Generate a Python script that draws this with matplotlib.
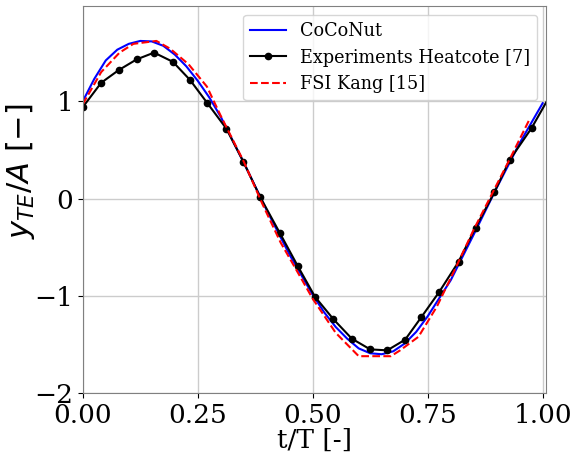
import matplotlib
matplotlib.use("Agg")
import matplotlib.pyplot as plt

# CoCoNut simulation (blue)
t_coconut = [0.0, 0.025, 0.05, 0.075, 0.10, 0.125, 0.15, 0.175, 0.20, 0.225, 0.25, 0.275,
             0.30, 0.35, 0.40, 0.45, 0.50, 0.525, 0.55, 0.575, 0.60, 0.625, 0.65, 0.675,
             0.70, 0.725, 0.75, 0.80, 0.85, 0.90, 0.95, 1.0]
y_coconut = [1.00, 1.23, 1.42, 1.53, 1.59, 1.62, 1.615, 1.57, 1.48, 1.36, 1.21, 1.04,
             0.84, 0.37, -0.12, -0.58, -0.99, -1.17, -1.32, -1.44, -1.54, -1.59, -1.60, -1.57,
             -1.49, -1.37, -1.21, -0.84, -0.37, 0.11, 0.57, 0.98]

# Experiments Heatcote [7] (black with dots)
t_exp = [0.0, 0.040, 0.078, 0.117, 0.155, 0.196, 0.233, 0.271, 0.312, 0.349, 0.386,
         0.428, 0.467, 0.505, 0.545, 0.585, 0.625, 0.662, 0.701, 0.736, 0.775, 0.817,
         0.854, 0.895, 0.928, 0.976, 1.015]
y_exp = [0.94, 1.19, 1.32, 1.43, 1.50, 1.405, 1.22, 0.98, 0.72, 0.38, 0.013,
         -0.35, -0.69, -1.01, -1.24, -1.44, -1.55, -1.56, -1.45, -1.22, -0.96, -0.65,
         -0.30, 0.065, 0.395, 0.725, 1.05]

# FSI Kang [15] (red dashed)
t_kang = [0.0, 0.04, 0.08, 0.11, 0.16, 0.19, 0.23, 0.27, 0.30, 0.35, 0.39, 0.43, 0.47,
          0.50, 0.55, 0.60, 0.67, 0.69, 0.73, 0.77, 0.81, 0.85, 0.89, 0.93, 0.972]
y_kang = [0.97, 1.30, 1.50, 1.59, 1.62, 1.54, 1.38, 1.15, 0.85, 0.38, -0.05, -0.45, -0.78,
          -1.03, -1.38, -1.62, -1.62, -1.56, -1.42, -1.11, -0.72, -0.32, 0.05, 0.42, 0.82]

plt.rcParams["font.family"] = "DejaVu Serif"
plt.rcParams["mathtext.fontset"] = "dejavusans"

fig = plt.figure(figsize=(5.71, 4.54), dpi=100)
ax = fig.add_axes([0.145, 0.134, 0.811, 0.853])

ax.plot(t_coconut, y_coconut, color="blue", lw=1.5, label="CoCoNut")
ax.plot(t_exp, y_exp, color="black", lw=1.5, marker="o", markersize=4.5,
        label="Experiments Heatcote [7]")
ax.plot(t_kang, y_kang, color="red", lw=1.5, ls="--", label="FSI Kang [15]")

ax.set_xlim(0, 1.007)
ax.set_ylim(-2, 1.98)
ax.set_xticks([0.0, 0.25, 0.5, 0.75, 1.0])
ax.set_yticks([-2, -1, 0, 1])
ax.tick_params(labelsize=19)
ax.grid(True, color="#cccccc", lw=1)
for s in ax.spines.values():
    s.set_color("#808080")

ax.set_xlabel("t/T [-]", fontsize=19, labelpad=0)
ax.set_ylabel(r"$y_{TE}/A$ [$-$]", fontsize=22, family="DejaVu Sans")
ax.yaxis.set_label_coords(-0.099, 0.574)
ax.legend(loc="upper right", fontsize=12.7)

fig.savefig("out.png", dpi=100)
